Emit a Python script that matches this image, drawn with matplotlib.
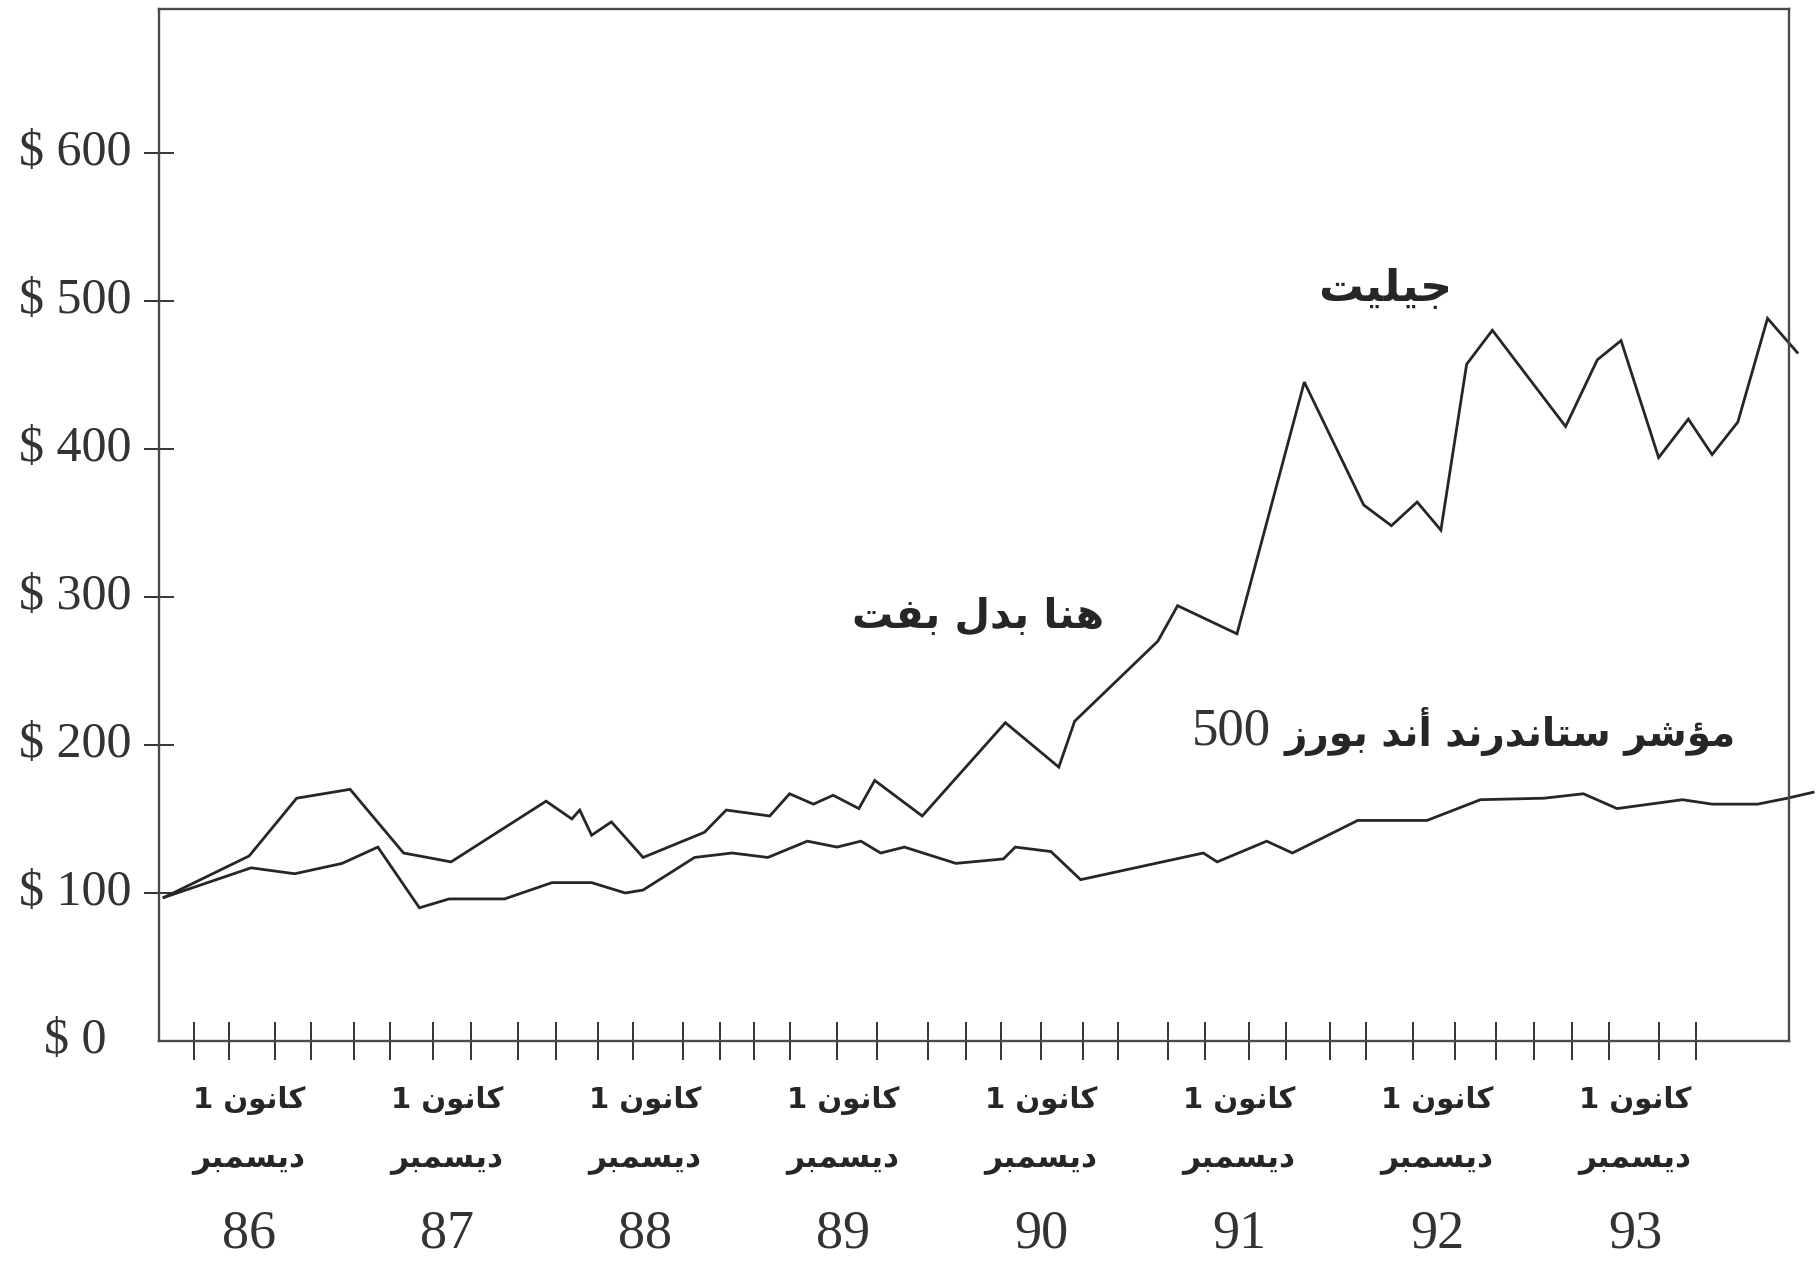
import re
import matplotlib
matplotlib.use("Agg")
import matplotlib.pyplot as plt

# x = fractional year (whole number = December of that year), y = value in $
gillette_x = [85.57, 86.00, 86.24, 86.51, 86.78, 87.02, 87.50, 87.63, 87.67, 87.73, 87.83, 87.99,
              88.30, 88.41, 88.63, 88.73, 88.85, 88.95, 89.08, 89.16, 89.40, 89.82, 90.09, 90.17,
              90.59, 90.69, 90.99, 91.33, 91.63, 91.77, 91.90, 92.02, 92.15, 92.28, 92.65, 92.81,
              92.93, 93.12, 93.27, 93.39, 93.52, 93.67, 93.82]
gillette_y = [97, 125, 164, 170, 127, 121, 162, 150, 156, 139, 148, 124,
              141, 156, 152, 167, 160, 166, 157, 176, 152, 215, 185, 216,
              270, 294, 275, 445, 362, 348, 364, 345, 457, 480, 415, 460,
              473, 394, 420, 396, 418, 488, 465]

sp_x = [85.57, 86.01, 86.23, 86.47, 86.65, 86.86, 87.01, 87.29, 87.53, 87.73, 87.90, 87.99,
        88.25, 88.44, 88.62, 88.82, 88.97, 89.09, 89.19, 89.31, 89.57, 89.81, 89.87, 90.05,
        90.20, 90.82, 90.89, 91.14, 91.27, 91.60, 91.95, 92.22, 92.54, 92.74, 92.91, 93.24,
        93.39, 93.62, 93.77, 93.90]
sp_y = [97, 117, 113, 120, 131, 90, 96, 96, 107, 107, 100, 102,
        124, 127, 124, 135, 131, 135, 127, 131, 120, 123, 131, 128,
        109, 127, 121, 135, 127, 149, 149, 163, 164, 167, 157, 163,
        160, 160, 164, 168]

tick_x = [85.72, 85.90, 86.13, 86.31, 86.53, 86.71, 86.93, 87.12, 87.36, 87.55,
          87.76, 87.94, 88.19, 88.38, 88.55, 88.73, 88.97, 89.17, 89.43, 89.62,
          89.80, 90.00, 90.21, 90.39, 90.64, 90.83, 91.05, 91.24, 91.46, 91.64,
          91.88, 92.09, 92.30, 92.49, 92.68, 92.87, 93.12, 93.31]
years = [86, 87, 88, 89, 90, 91, 92, 93]
y_values = [0, 100, 200, 300, 400, 500, 600]

month_line1 = "كانون 1"
month_line2 = "ديسمبر"
label_gillette = "جيليت"
label_buffett = "هنا بدل بفت"
label_sp = "مؤشر ستاندرند أند بورز"
label_sp_num = "500"

# matplotlib does no Arabic shaping, so pick presentation forms by hand
# (isolated, final, initial, medial)
FORMS = {
    "ا": ("\ufe8d", "\ufe8e", None, None),
    "أ": ("\ufe83", "\ufe84", None, None),
    "ب": ("\ufe8f", "\ufe90", "\ufe91", "\ufe92"),
    "ت": ("\ufe95", "\ufe96", "\ufe97", "\ufe98"),
    "ج": ("\ufe9d", "\ufe9e", "\ufe9f", "\ufea0"),
    "د": ("\ufea9", "\ufeaa", None, None),
    "ر": ("\ufead", "\ufeae", None, None),
    "ز": ("\ufeaf", "\ufeb0", None, None),
    "س": ("\ufeb1", "\ufeb2", "\ufeb3", "\ufeb4"),
    "ش": ("\ufeb5", "\ufeb6", "\ufeb7", "\ufeb8"),
    "ف": ("\ufed1", "\ufed2", "\ufed3", "\ufed4"),
    "ك": ("\ufed9", "\ufeda", "\ufedb", "\ufedc"),
    "ل": ("\ufedd", "\ufede", "\ufedf", "\ufee0"),
    "م": ("\ufee1", "\ufee2", "\ufee3", "\ufee4"),
    "ن": ("\ufee5", "\ufee6", "\ufee7", "\ufee8"),
    "ه": ("\ufee9", "\ufeea", "\ufeeb", "\ufeec"),
    "و": ("\ufeed", "\ufeee", None, None),
    "ؤ": ("\ufe85", "\ufe86", None, None),
    "ي": ("\ufef1", "\ufef2", "\ufef3", "\ufef4"),
}


def shape(s):
    out = []
    for i, ch in enumerate(s):
        if ch not in FORMS:
            out.append(ch)
            continue
        prev = s[i - 1] if i > 0 else ""
        nxt = s[i + 1] if i + 1 < len(s) else ""
        f = FORMS[ch]
        join_prev = prev in FORMS and FORMS[prev][2] is not None
        join_next = f[2] is not None and nxt in FORMS
        if join_prev and join_next:
            out.append(f[3])
        elif join_prev:
            out.append(f[1])
        elif join_next:
            out.append(f[2])
        else:
            out.append(f[0])
    vis = "".join(out)[::-1]
    return re.sub(r"[0-9]+", lambda m: m.group(0)[::-1], vis)


ink = "#262626"
serif = "Liberation Serif"
arab = "DejaVu Sans"

fig = plt.figure(figsize=(18.18, 12.65), dpi=100)
ax = fig.add_axes([0.0875, 0.177, 0.8965, 0.816])

ax.plot(gillette_x, gillette_y, color=ink, lw=2.0, clip_on=False, solid_joinstyle="miter")
ax.plot(sp_x, sp_y, color=ink, lw=2.0, clip_on=False, solid_joinstyle="miter")

ax.set_xlim(85.545, 93.778)
ax.set_ylim(0, 697)

for s in ax.spines.values():
    s.set_color("#4a4a4a")
    s.set_linewidth(1.7)

ax.set_xticks(tick_x)
ax.set_xticklabels([])
ax.set_yticks(y_values[1:])
ax.set_yticklabels([])
ax.tick_params(axis="x", direction="inout", length=27, width=1.4, color="#333333")
ax.tick_params(axis="y", direction="inout", length=22, width=1.4, color="#333333")

for v in y_values:
    ax.text(-0.0515, v, "$ %d" % v, transform=ax.get_yaxis_transform(),
            ha="center", va="center", fontsize=36, family=serif, color="#333333")

for yr in years:
    ax.text(yr, -0.058, shape(month_line1), transform=ax.get_xaxis_transform(),
            ha="center", va="center", fontsize=21, fontweight="bold", family=arab, color=ink)
    ax.text(yr, -0.115, shape(month_line2), transform=ax.get_xaxis_transform(),
            ha="center", va="center", fontsize=22.5, fontweight="bold", family=arab, color=ink)
    ax.text(yr, -0.187, str(yr), transform=ax.get_xaxis_transform(),
            ha="center", va="center", fontsize=39, family=serif, color="#333333")

ax.text(91.74, 508, shape(label_gillette), ha="center", va="center",
        fontsize=32, fontweight="bold", family=arab, color=ink)
ax.text(89.68, 287, shape(label_buffett), ha="center", va="center",
        fontsize=29.5, fontweight="bold", family=arab, color=ink)
ax.text(93.51, 209, shape(label_sp), ha="right", va="center",
        fontsize=28, fontweight="bold", family=arab, color=ink)
ax.text(90.96, 209, label_sp_num, ha="center", va="center",
        fontsize=38, family=serif, color="#333333")

fig.savefig("out.png", dpi=100)
